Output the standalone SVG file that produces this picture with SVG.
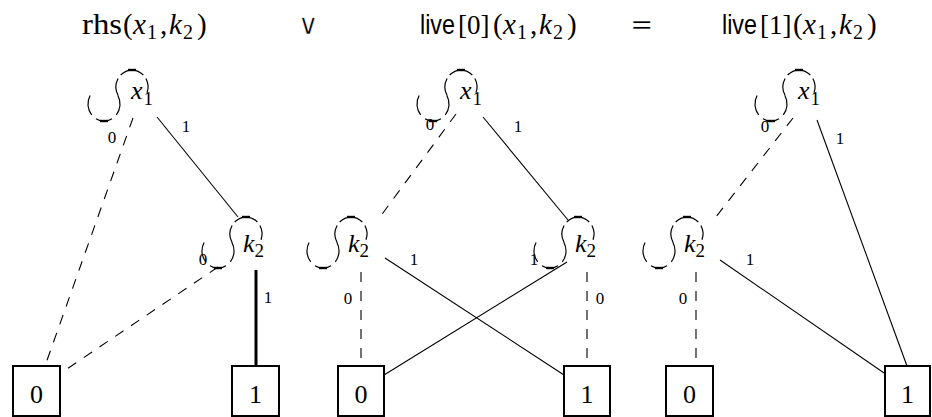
<svg xmlns="http://www.w3.org/2000/svg" width="932" height="417" viewBox="0 0 932 417">
  <style>
    .ring{fill:none;stroke:#000;stroke-width:1.2}
    .bar{stroke:#000;stroke-width:2.4}
    .lbl{font-family:"Liberation Serif",serif;font-size:26px;font-style:italic}
    .sub{font-family:"Liberation Serif",serif;font-size:19px;font-style:normal}
    .term rect{fill:#fff;stroke:#000;stroke-width:2}
    .term text{font-family:"Liberation Serif",serif;font-size:26px;text-anchor:middle}
    .lo{fill:none;stroke:#000;stroke-width:1.1;stroke-dasharray:10 9}
    .hi{fill:none;stroke:#000;stroke-width:1.1}
    .thick{stroke-width:3}
    .elab{font-family:"Liberation Serif",serif;font-size:17px;text-anchor:middle}
    .t{font-family:"Liberation Serif",serif;font-size:29px}
    .ti{font-style:italic}
    .ts{font-size:20px}
    .tb{font-size:27px}
    .sans{font-family:"Liberation Sans",sans-serif;font-size:27px}
    .op{font-family:"DejaVu Sans",sans-serif;font-size:28px;stroke:#fff;stroke-width:0.6;paint-order:fill}
  </style>
  <defs>
    <!-- broken dashed ring drawn around each decision node, with its side lobe -->
    <g id="ring">
      <path class="ring" d="M -11.3,-12 A 16 17 0 0 1 11.3,-12"/>
      <path class="ring" d="M -13.9,8.5 A 16 17 0 0 1 -13.9,-8.5"/>
      <path class="ring" d="M 13.9,-8.5 A 16 17 0 0 1 15,5.8"/>
      <path class="ring" d="M -40.3,27.9 A 16 17 0 0 1 -41.9,8.5"/>
      <path class="ring" d="M -20,31.7 A 16 17 0 0 1 -36,31.7"/>
      <path class="ring" d="M -14.1,8.5 A 16 17 0 0 1 -15.7,27.9"/>
      <line class="bar" x1="-4" y1="-17" x2="4" y2="-17"/>
      <line class="bar" x1="-32" y1="34" x2="-24" y2="34"/>
    </g>
  </defs>
  <rect width="932" height="417" fill="#fff"/>

  <!-- headings -->
  <g id="headings">
    <text class="t" y="34"><tspan x="82" textLength="40" lengthAdjust="spacingAndGlyphs">rhs</tspan><tspan x="123">(</tspan><tspan class="ti" x="133">x</tspan><tspan class="ts" x="147" dy="5">1</tspan><tspan x="160" dy="-5">,</tspan><tspan class="ti" x="169">k</tspan><tspan class="ts" x="183" dy="5">2</tspan><tspan x="197" dy="-5">)</tspan></text>
    <text class="op" x="298" y="34">∨</text>
    <text class="t" y="34"><tspan class="sans" x="420" textLength="35" lengthAdjust="spacingAndGlyphs">live</tspan><tspan class="tb" x="458">[0]</tspan><tspan x="493">(</tspan><tspan class="ti" x="503">x</tspan><tspan class="ts" x="517" dy="5">1</tspan><tspan x="530" dy="-5">,</tspan><tspan class="ti" x="539">k</tspan><tspan class="ts" x="553" dy="5">2</tspan><tspan x="567" dy="-5">)</tspan></text>
    <text class="op" x="630" y="34">=</text>
    <text class="t" y="34"><tspan class="sans" x="722" textLength="35" lengthAdjust="spacingAndGlyphs">live</tspan><tspan class="tb" x="760">[1]</tspan><tspan x="793">(</tspan><tspan class="ti" x="803">x</tspan><tspan class="ts" x="817" dy="5">1</tspan><tspan x="830" dy="-5">,</tspan><tspan class="ti" x="839">k</tspan><tspan class="ts" x="853" dy="5">2</tspan><tspan x="867" dy="-5">)</tspan></text>
  </g>

  <!-- connectors: dashed = 0-branch, solid = 1-branch -->
  <g id="edges">
    <!-- rhs -->
    <line class="lo" x1="133" y1="118" x2="45" y2="366"/>
    <text class="elab" x="112" y="143">0</text>
    <line class="hi" x1="157" y1="117" x2="238" y2="217"/>
    <text class="elab" x="186" y="132">1</text>
    <line class="lo" x1="218" y1="267" x2="58" y2="375"/>
    <text class="elab" x="203" y="265">0</text>
    <line class="hi thick" x1="256" y1="270" x2="256" y2="366"/>
    <text class="elab" x="268" y="303">1</text>

    <!-- live[0] -->
    <line class="lo" x1="456" y1="114" x2="377" y2="221"/>
    <text class="elab" x="430" y="130">0</text>
    <line class="hi" x1="483" y1="117" x2="568" y2="220"/>
    <text class="elab" x="518" y="132">1</text>
    <line class="lo" x1="361" y1="272" x2="361" y2="366"/>
    <text class="elab" x="348" y="304">0</text>
    <line class="hi" x1="385" y1="258" x2="564" y2="375"/>
    <text class="elab" x="414" y="265">1</text>
    <line class="hi" x1="567" y1="262" x2="384" y2="375"/>
    <text class="elab" x="534" y="265">1</text>
    <line class="lo" x1="587" y1="272" x2="587" y2="366"/>
    <text class="elab" x="600" y="304">0</text>

    <!-- live[1] -->
    <line class="lo" x1="793" y1="118" x2="712" y2="222"/>
    <text class="elab" x="765" y="132">0</text>
    <line class="hi" x1="817" y1="120" x2="907" y2="366"/>
    <text class="elab" x="840" y="144">1</text>
    <line class="lo" x1="696" y1="272" x2="696" y2="366"/>
    <text class="elab" x="683" y="304">0</text>
    <line class="hi" x1="720" y1="260" x2="887" y2="375"/>
    <text class="elab" x="750" y="265">1</text>
  </g>

  <!-- rhs nodes -->
  <g id="rhs-x1" transform="translate(132,87)"><use href="#ring"/><text class="lbl" x="-1" y="12">x<tspan class="sub" dx="1" dy="6">1</tspan></text></g>
  <g id="rhs-k2" transform="translate(246,234)"><use href="#ring"/><text class="lbl" x="-3" y="18">k<tspan class="sub" dx="0" dy="5">2</tspan></text></g>
  <g id="rhs-t0" class="term"><rect x="13" y="366" width="47" height="50"/><text x="36.5" y="403">0</text></g>
  <g id="rhs-t1" class="term"><rect x="232" y="366" width="47" height="50"/><text x="255.5" y="403">1</text></g>

  <!-- live[0] nodes -->
  <g id="l0-x1" transform="translate(461,87)"><use href="#ring"/><text class="lbl" x="-1" y="12">x<tspan class="sub" dx="1" dy="6">1</tspan></text></g>
  <g id="l0-k2a" transform="translate(351,234)"><use href="#ring"/><text class="lbl" x="-3" y="18">k<tspan class="sub" dx="0" dy="5">2</tspan></text></g>
  <g id="l0-k2b" transform="translate(578,234)"><use href="#ring"/><text class="lbl" x="-3" y="18">k<tspan class="sub" dx="0" dy="5">2</tspan></text></g>
  <g id="l0-t0" class="term"><rect x="338" y="366" width="46" height="50"/><text x="361" y="403">0</text></g>
  <g id="l0-t1" class="term"><rect x="564" y="366" width="46" height="50"/><text x="587" y="403">1</text></g>

  <!-- live[1] nodes -->
  <g id="l1-x1" transform="translate(799,87)"><use href="#ring"/><text class="lbl" x="-1" y="12">x<tspan class="sub" dx="1" dy="6">1</tspan></text></g>
  <g id="l1-k2" transform="translate(687,234)"><use href="#ring"/><text class="lbl" x="-3" y="18">k<tspan class="sub" dx="0" dy="5">2</tspan></text></g>
  <g id="l1-t0" class="term"><rect x="666" y="366" width="47" height="50"/><text x="689.5" y="403">0</text></g>
  <g id="l1-t1" class="term"><rect x="885" y="366" width="45" height="50"/><text x="907.5" y="403">1</text></g>
</svg>
